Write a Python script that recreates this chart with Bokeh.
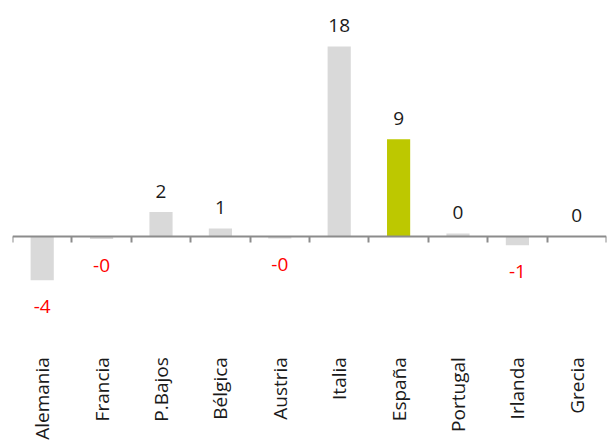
import math
from bokeh.plotting import figure
from bokeh.models import Range1d, LinearAxis, FixedTicker, ColumnDataSource
from bokeh.core.properties import value
from bokeh.embed import file_html
from bokeh.resources import INLINE

countries = ["Alemania", "Francia", "P.Bajos", "Bélgica", "Austria",
             "Italia", "España", "Portugal", "Irlanda", "Grecia"]
values = [-4.15, -0.25, 2.3, 0.75, -0.2, 18.0, 9.2, 0.28, -0.85, 0.0]
highlight = "España"

GRAY = "#D9D9D9"
GREEN = "#BDC800"
FONT = "Open Sans"

centers = [i + 0.5 for i in range(len(countries))]
bounds = list(range(len(countries) + 1))
colors = [GREEN if c == highlight else GRAY for c in countries]
labels = [f"{v:.0f}" for v in values]

Y_TOP = 21.6
Y_BOTTOM = -19.35
LABEL_Y = -11.45  # where the category names end (rotated text)

p = figure(width=607, height=440,
           x_range=Range1d(0, len(countries)), y_range=Range1d(Y_BOTTOM, Y_TOP),
           x_axis_type=None, y_axis_type=None,
           toolbar_location=None, output_backend="svg",
           min_border_left=12, min_border_right=1, min_border_top=8,
           min_border_bottom=0, outline_line_color=None)
p.xgrid.visible = False
p.ygrid.visible = False

src = ColumnDataSource(dict(x=centers, top=values, color=colors, label=labels))
p.vbar(x="x", top="top", bottom=0, width=0.39, fill_color="color",
       line_color=None, source=src)

pos = [i for i, v in enumerate(values) if v >= 0]
neg = [i for i, v in enumerate(values) if v < 0]
src_pos = ColumnDataSource(dict(x=[centers[i] for i in pos], y=[values[i] for i in pos],
                                t=[labels[i] for i in pos]))
src_neg = ColumnDataSource(dict(x=[centers[i] for i in neg], y=[values[i] for i in neg],
                                t=[labels[i] for i in neg]))
p.text(x="x", y="y", text="t", source=src_pos, text_align="center",
       text_baseline="alphabetic", y_offset=-21, text_font=value(FONT),
       text_font_size="19px", text_color="#1a1a1a")
p.text(x="x", y="y", text="t", source=src_neg, text_align="center",
       text_baseline="alphabetic", y_offset=26, text_font=value(FONT),
       text_font_size="19px", text_color="#FF0000")

# category names, rotated, reading bottom to top
cat_src = ColumnDataSource(dict(x=centers, name=countries))
p.text(x="x", y=LABEL_Y, text="name", source=cat_src, angle=math.pi / 2,
       text_align="right", text_baseline="middle", text_font=value(FONT),
       text_font_size="19px", text_color="#1a1a1a")

zero_axis = LinearAxis(fixed_location=0, ticker=FixedTicker(ticks=bounds),
                       major_label_overrides={b: "" for b in bounds},
                       major_label_text_font_size="10px",
                       major_tick_in=0, major_tick_out=6,
                       axis_line_color="#8C8C8C", axis_line_width=2,
                       major_tick_line_color="#8C8C8C", major_tick_line_width=2,
                       minor_tick_line_color=None)
p.add_layout(zero_axis, "below")

open("out.html", "w").write(file_html(p, INLINE))
